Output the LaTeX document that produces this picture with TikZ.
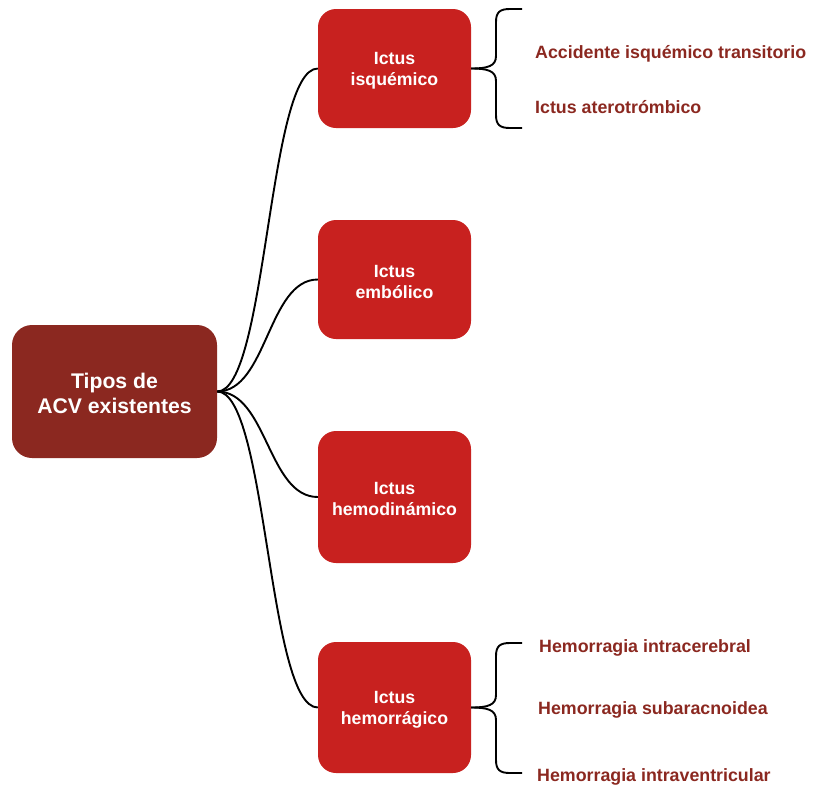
\documentclass[tikz,border=0pt]{standalone}
\usepackage{fontspec}
\setmainfont{Liberation Sans}
\definecolor{rootred}{HTML}{8B2820}
\definecolor{boxred}{HTML}{C8211F}
\definecolor{labred}{HTML}{8B2820}
\begin{document}
\begin{tikzpicture}[x=1pt,y=-1pt,
  rootbox/.style={draw=none,fill=rootred,rounded corners=20pt,minimum width=205pt,minimum height=133pt,inner sep=0pt},
  roottext/.style={text=white,align=center,font=\bfseries\fontsize{21.2}{25}\selectfont,inner sep=0pt},
  kidbox/.style={draw=none,fill=boxred,rounded corners=18pt,minimum width=153pt,inner sep=0pt},
  kidtext/.style={text=white,align=center,font=\bfseries\fontsize{17.7}{21}\selectfont,inner sep=0pt},
  leaf/.style={anchor=west,text=labred,font=\bfseries\fontsize{17.8}{21}\selectfont,inner sep=0pt},
  link/.style={draw=black,line width=1.9pt},
  brace/.style={draw=black,line width=1.9pt}
]
\useasboundingbox (0,0) rectangle (813,788);
\node[rootbox,minimum height=133pt] (root) at (114.5,391.5) {};
\node[kidbox,minimum height=119pt] (isq) at (394.5,68.5) {};
\node[kidbox,minimum height=119pt] (emb) at (394.5,279.5) {};
\node[kidbox,minimum height=132pt] (hdin) at (394.5,497) {};
\node[kidbox,minimum height=131pt] (hrr) at (394.5,707.5) {};

\node[roottext] (roott) at ([yshift=-1.5pt]root.center) {Tipos de\\ACV existentes};
\node[kidtext] (isqt) at ([yshift=-2.5pt]isq.center) {Ictus\\isquémico};
\node[kidtext] (embt) at ([yshift=-2.5pt]emb.center) {Ictus\\embólico};
\node[kidtext] (hdint) at ([yshift=-1.5pt]hdin.center) {Ictus\\hemodinámico};
\node[kidtext] (hrrt) at ([yshift=-2pt]hrr.center) {Ictus\\hemorrágico};

\foreach \k in {isq,emb,hdin,hrr}
  \draw[link] (root.east) .. controls +(50,0) and +(-50,0) .. (\k.west);

% labels
\node[leaf] (l1) at (535,54) {Accidente isquémico transitorio};
\node[leaf] (l2) at (535,107) {Ictus aterotrómbico};
\node[leaf] (l3) at (539,647.5) {Hemorragia intracerebral};
\node[leaf] (l4) at (538,710) {Hemorragia subaracnoidea};
\node[leaf] (l5) at (537,777) {Hemorragia intraventricular};

% braces
\coordinate (b1t) at (522,9);
\coordinate (b1b) at (522,128);
\coordinate (b2t) at (522,643);
\coordinate (b2b) at (522,773);
\draw[brace] (isq.east) .. controls (488,68.5) and (496,66) .. (496,56) -- (496,22)
   .. controls (496,12) and (500,9) .. (510,9) -- (b1t);
\draw[brace] (isq.east) .. controls (488,68.5) and (496,71) .. (496,81) -- (496,115)
   .. controls (496,125) and (500,128) .. (510,128) -- (b1b);
\draw[brace] (hrr.east) .. controls (488,707.5) and (496,705) .. (496,695) -- (496,656)
   .. controls (496,646) and (500,643) .. (510,643) -- (b2t);
\draw[brace] (hrr.east) .. controls (488,707.5) and (496,710) .. (496,720) -- (496,760)
   .. controls (496,770) and (500,773) .. (510,773) -- (b2b);
\end{tikzpicture}
\end{document}
